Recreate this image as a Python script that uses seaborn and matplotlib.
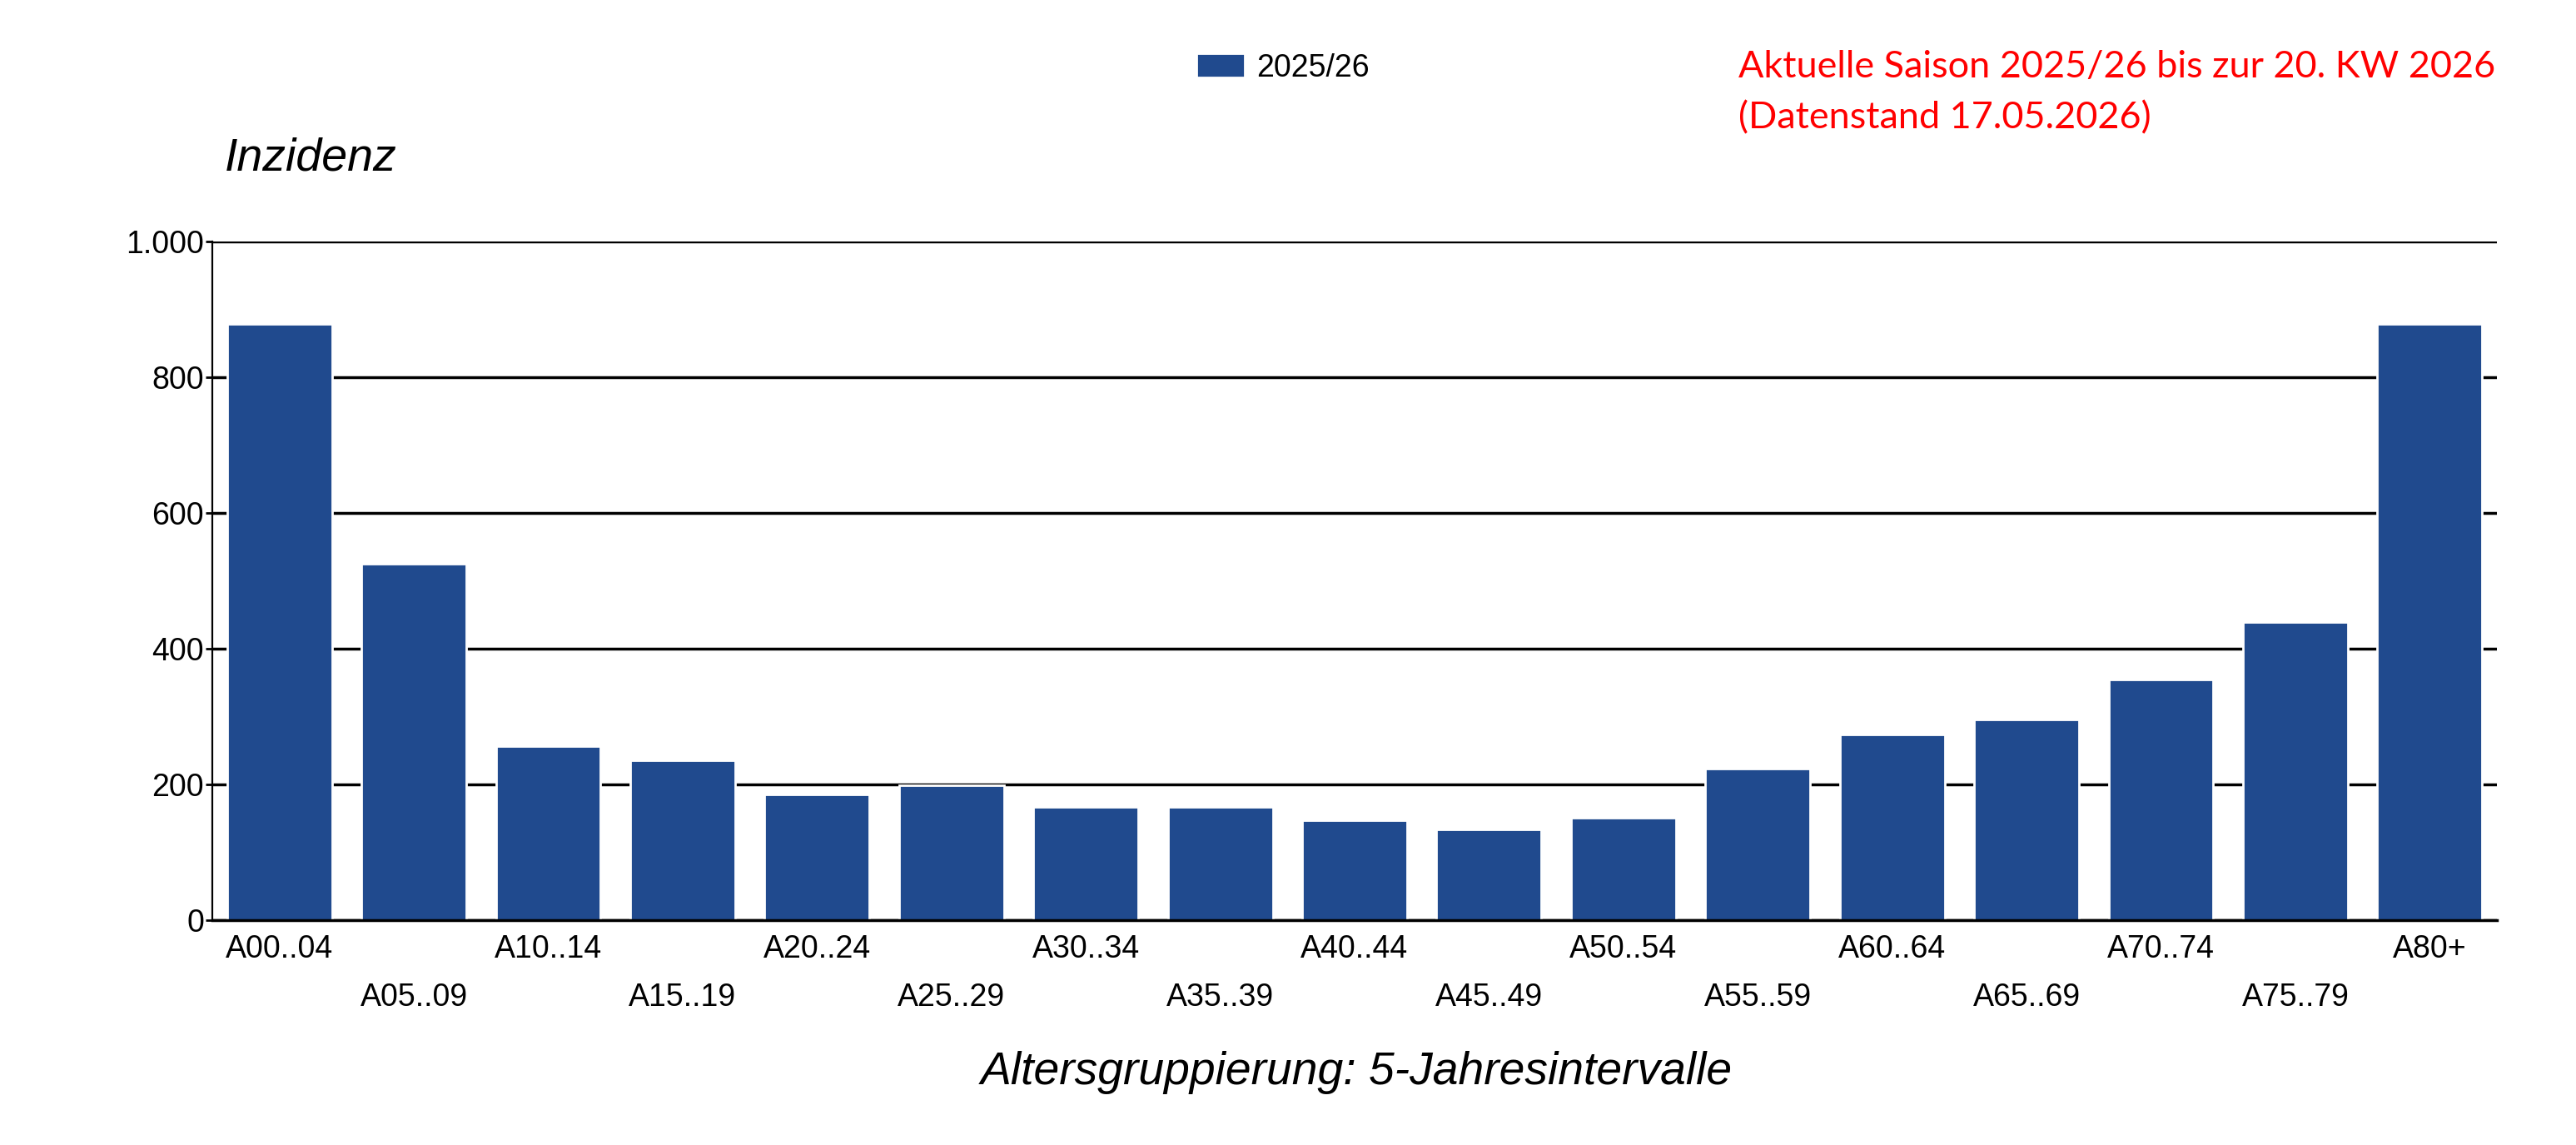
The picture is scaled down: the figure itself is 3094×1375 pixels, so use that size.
import numpy as np
import pandas as pd
import matplotlib
matplotlib.use('Agg')
import matplotlib.pyplot as plt
import seaborn as sns
from matplotlib.ticker import FuncFormatter

# Data
age_groups = ['A00..04', 'A05..09', 'A10..14', 'A15..19', 'A20..24', 'A25..29',
              'A30..34', 'A35..39', 'A40..44', 'A45..49', 'A50..54', 'A55..59',
              'A60..64', 'A65..69', 'A70..74', 'A75..79', 'A80+']
incidence = [879, 525, 257, 236, 185, 199,
             167, 167, 147, 134, 151, 223,
             274, 296, 355, 439, 879]
season = '2025/26'
y_ticks = [0, 200, 400, 600, 800, 1000]

bar_color = '#204A8E'

df = pd.DataFrame({'Altersgruppe': age_groups, 'Inzidenz': incidence, 'Saison': season})

sns.set_style('white')
plt.rcParams['font.family'] = ['Liberation Sans', 'DejaVu Sans']
plt.rcParams['text.color'] = 'black'
plt.rcParams['axes.labelcolor'] = 'black'
plt.rcParams['xtick.color'] = 'black'
plt.rcParams['ytick.color'] = 'black'

fig = plt.figure(figsize=(15.47, 6.875), dpi=200)
ax = fig.add_axes([0.0824, 0.1964, 0.8869, 0.5926])

sns.barplot(data=df, x='Altersgruppe', y='Inzidenz', hue='Saison',
            palette=[bar_color], width=0.78, saturation=1, ax=ax)

ax.set_ylim(0, 1000)
ax.set_xlim(-0.5, len(age_groups) - 0.5)
ax.set_yticks(y_ticks)
ax.yaxis.set_major_formatter(FuncFormatter(lambda v, p: '{:,.0f}'.format(v).replace(',', '.')))
ax.grid(axis='y', color='black', linewidth=1.25)
ax.set_axisbelow(True)

for side in ['top', 'right']:
    ax.spines[side].set_visible(False)
ax.spines['left'].set_color('black')
ax.spines['left'].set_linewidth(0.8)
ax.spines['bottom'].set_color('black')
ax.spines['bottom'].set_linewidth(1.25)

# tick marks between the categories, labels staggered in two rows
ax.set_xticks(np.arange(-0.5, len(age_groups)), minor=True)
ax.tick_params(axis='x', which='minor', length=5.4, width=0.8, color='black', direction='out')
ax.tick_params(axis='x', which='major', length=0, labelsize=13.5, pad=6)
ax.tick_params(axis='y', which='major', length=3, width=1.0, color='black',
               direction='out', labelsize=13.5, pad=0.5, left=True)
for i, tick in enumerate(ax.xaxis.get_major_ticks()):
    if i % 2 == 1:
        tick.set_pad(27)

ax.set_xlabel('Altersgruppierung: 5-Jahresintervalle', fontsize=19.9, style='italic')
ax.xaxis.set_label_coords(0.501, -0.2245)
ax.xaxis.label.set_va('center')
ax.set_ylabel('Inzidenz', fontsize=20, style='italic', rotation=0, ha='left', va='center')
ax.yaxis.set_label_coords(0.0055, 1.1227)

ax.legend(loc='center left', bbox_to_anchor=(0.4644, 0.9405), bbox_transform=fig.transFigure,
          frameon=False, fontsize=13.5, handlelength=1.56, handleheight=0.8,
          handletextpad=0.36, borderpad=0, borderaxespad=0)

fig.text(0.675, 0.9415, 'Aktuelle Saison 2025/26 bis zur 20. KW 2026', color='red',
         fontsize=16.2, va='center', ha='left', family=['Lato', 'DejaVu Sans'])
fig.text(0.675, 0.8965, '(Datenstand 17.05.2026)', color='red',
         fontsize=16.2, va='center', ha='left', family=['Lato', 'DejaVu Sans'])

fig.savefig('out.png', dpi=200)
